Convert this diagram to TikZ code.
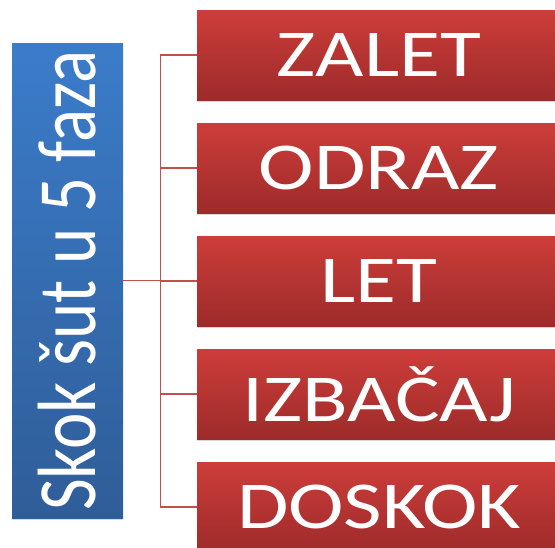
\documentclass[tikz,border=0pt]{standalone}
\usepackage{fontspec}
\setmainfont{Carlito}
\usetikzlibrary{shadows}
\definecolor{fazaGore}{HTML}{CD3D3A}
\definecolor{fazaDolje}{HTML}{9D2B2A}
\definecolor{naslovGore}{HTML}{3B7CCA}
\definecolor{naslovDolje}{HTML}{2F5D98}
\definecolor{veza}{HTML}{C0504D}
\newcommand{\sirokiTekst}[1]{\scalebox{1.25}[1]{#1}}
\newcommand{\visokiTekst}[1]{\scalebox{1}[1.2]{#1}}
\tikzset{
	faza/.style={minimum width=364pt, minimum height=90pt, inner sep=0pt,
		top color=fazaGore, bottom color=fazaDolje, text=white,
		font=\fontsize{67}{67}\selectfont,
		drop shadow={shadow xshift=0pt, shadow yshift=-2pt, opacity=0.3}},
	naslov/.style={minimum width=475pt, minimum height=111pt, inner sep=0pt,
		rotate=90, top color=naslovGore, bottom color=naslovDolje, text=white,
		font=\fontsize{69}{69}\selectfont,
		drop shadow={shadow xshift=0pt, shadow yshift=-2pt, opacity=0.3}},
	grana/.style={veza, line width=1.3pt}
}

\begin{document}
\begin{tikzpicture}[x=1pt, y=-1pt]
	\useasboundingbox (0,0) rectangle (555,547);
	\node[naslov] (skok) at (67.5,280.5) {\visokiTekst{Skok šut u 5 faza}};
	\foreach \ime [count=\i] in {ZALET,ODRAZ,LET,IZBAČAJ,DOSKOK}
		\node[faza] (f\i) at (379,{55+113*(\i-1)}) {\sirokiTekst{\ime}};
	\draw[grana] (skok.south) -- ++(37,0) coordinate (stablo);
	\draw[grana] (stablo |- f1.west) -- (stablo |- f5.west);
	\foreach \i in {1,...,5}
		\draw[grana] (stablo |- f\i.west) -- (f\i.west);
\end{tikzpicture}
\end{document}
